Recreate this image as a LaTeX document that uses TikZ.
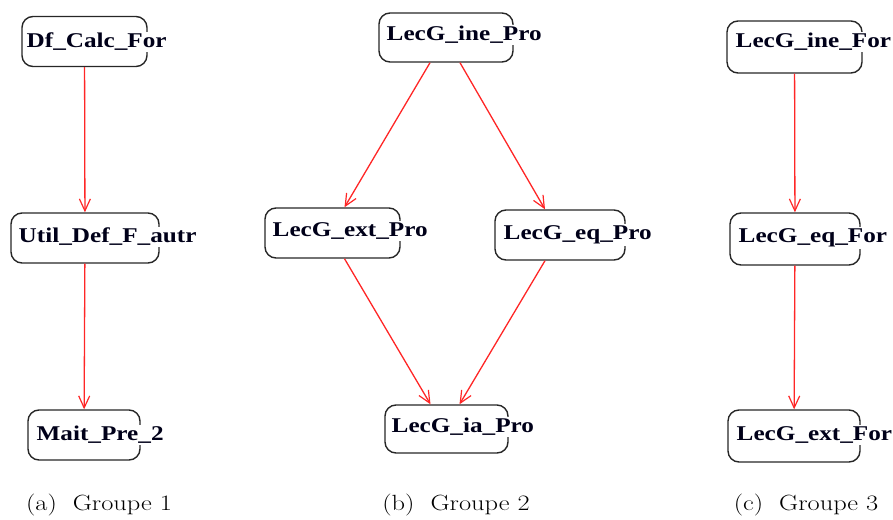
\documentclass[tikz,border=0pt]{standalone}
\usepackage{fontspec}
\usetikzlibrary{arrows.meta}
\newfontfamily\nodefont[FakeStretch=1.2]{Liberation Serif}
\newfontfamily\capfont[FakeStretch=1.2]{Latin Modern Roman}
\begin{document}
\begin{tikzpicture}[x=1pt,y=-1pt,
  box/.style={draw=black!85, line width=1.4pt, rounded corners=11pt, inner sep=0pt},
  lbl/.style={fill=white, inner sep=1.5pt, anchor=west, font=\nodefont\bfseries\fontsize{21}{23}\selectfont, text=black!90!blue},
  conn/.style={draw=red!85!white, line width=1.3pt, -{Straight Barb[length=12pt,width=11pt,line width=1.2pt]}},
  captxt/.style={font=\capfont\fontsize{22}{26}\selectfont, inner sep=0pt}]
\useasboundingbox (0,0) rectangle (893,519);
% Group 1
\node[box, minimum width=125, minimum height=50] (a1) at (84.5,41.5) {};
\node[lbl] (a1t) at (25,42) {Df\_Calc\_For};
\node[box, minimum width=148, minimum height=50] (a2) at (85,238) {};
\node[lbl] (a2t) at (17,237) {Util\_Def\_F\_autr};
\node[box, minimum width=112, minimum height=50] (a3) at (84,435) {};
\node[lbl] (a3t) at (35,435) {Mait\_Pre\_2};
\draw[conn] (a1) -- (a2);
\draw[conn] (a2) -- (a3);
% Group 2
\node[box, minimum width=134, minimum height=49] (b1) at (446,37.5) {};
\node[lbl] (b1t) at (385,35) {LecG\_ine\_Pro};
\node[box, minimum width=135, minimum height=50] (b2) at (332.5,233) {};
\node[lbl] (b2t) at (271,231) {LecG\_ext\_Pro};
\node[box, minimum width=130, minimum height=50] (b3) at (560,235) {};
\node[lbl] (b3t) at (502,235) {LecG\_eq\_Pro};
\node[box, minimum width=123, minimum height=48] (b4) at (446.5,429) {};
\node[lbl] (b4t) at (390,427) {LecG\_ia\_Pro};
\draw[conn] ([xshift=-16pt]b1.south) -- ([xshift=12pt]b2.north);
\draw[conn] ([xshift=14pt]b1.south) -- ([xshift=-15pt]b3.north);
\draw[conn] ([xshift=12pt]b2.south) -- ([xshift=-16pt]b4.north);
\draw[conn] ([xshift=-15pt]b3.south) -- ([xshift=13pt]b4.north);
% Group 3
\node[box, minimum width=135, minimum height=52] (c1) at (794.5,47) {};
\node[lbl] (c1t) at (734,42) {LecG\_ine\_For};
\node[box, minimum width=130, minimum height=52] (c2) at (795,239) {};
\node[lbl] (c2t) at (737,238) {LecG\_eq\_For};
\node[box, minimum width=132, minimum height=52] (c3) at (794,436) {};
\node[lbl] (c3t) at (735,435) {LecG\_ext\_For};
\draw[conn] (c1) -- (c2);
\draw[conn] (c2) -- (c3);
% Captions
\node[captxt] (capa) at (99,505) {(a)~ Groupe 1};
\node[captxt] (capb) at (456,505) {(b)~ Groupe 2};
\node[captxt] (capc) at (806,505) {(c)~ Groupe 3};
\end{tikzpicture}
\end{document}
